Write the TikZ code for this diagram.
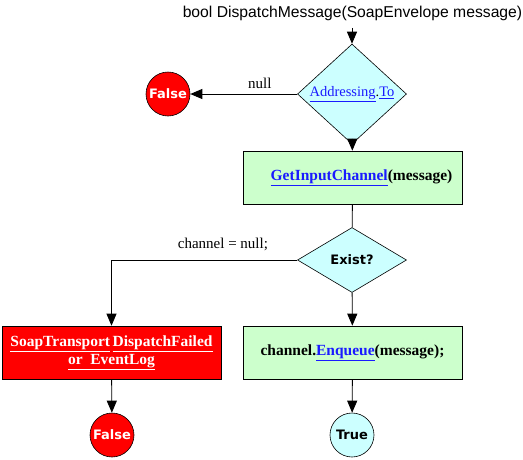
\documentclass[tikz,border=0pt]{standalone}
\usepackage{fontspec}
\setmainfont{Liberation Serif}
\setsansfont{Liberation Sans}
\newfontfamily\roundfont{DejaVu Sans}
\usetikzlibrary{arrows.meta,positioning,shapes.geometric}
\definecolor{decisioncyan}{HTML}{CCFFFF}
\definecolor{processgreen}{HTML}{CCFFCC}
\definecolor{failred}{HTML}{FF0000}
\definecolor{linkblue}{HTML}{1A1AFF}

% underlined link text
\newcommand{\linktext}[1]{\textcolor{linkblue}{\underline{#1}}}

\begin{document}
\begin{tikzpicture}[
		x=1pt, y=-1pt,
		>={Triangle[length=12pt,width=10pt]},
		line width=0.9pt,
		decision/.style={diamond, draw, fill=decisioncyan, inner sep=0pt,
				minimum width=109pt, minimum height=65pt, line width=0.6pt},
		process/.style={draw, fill=#1, minimum width=219pt, minimum height=53pt,
				align=center, line width=0.6pt, font=\fontsize{15.5}{18}\selectfont\bfseries},
		terminal/.style={circle, draw, fill=#1, minimum size=44pt, inner sep=0pt,
				line width=0.6pt, font=\roundfont\fontsize{13}{15}\selectfont\bfseries},
		label/.style={font=\fontsize{15}{17}\selectfont},
	]
	\useasboundingbox (0,0) rectangle (523,459);

	\node[font=\sffamily\fontsize{15.7}{18}\selectfont, inner sep=0pt] (title) at (352.5,13)
	{bool DispatchMessage(SoapEnvelope message)};

	\node[decision] (addr) at (352,94)
	{\fontsize{14.5}{17}\selectfont\linktext{Addressing}.\linktext{To}};

	\node[terminal=failred, text=white] (false1) at (168,94) {False};

	\node[process=processgreen] (getch) at (352.5,177.5)
	{\hspace*{18pt}\linktext{GetInputChannel}(message)};

	\node[decision] (exist) at (352,260)
	{\roundfont\fontsize{13}{15}\selectfont\bfseries Exist?};

	\node[process=failred, text=white] (fail) at (111.5,352.5)
	{\underline{SoapTransport}\,\underline{DispatchFailed}\\\underline{or\ \ EventLog}};

	\node[process=processgreen] (enq) at (352.5,352.5)
	{channel.\linktext{Enqueue}(message);};

	\node[terminal=failred, text=white] (false2) at (112,435) {False};
	\node[terminal=decisioncyan] (true) at (352,435) {True};

	\draw[->] ([yshift=-7pt]title.south -| addr.north) -- (addr);
	\draw[->] (addr) -- (false1)
	node[label, pos=0.35, above=2pt] {null};
	\draw[->] (addr) -- (getch);
	\draw (getch) -- (exist);
	\draw[->] (exist.west) -| (fail)
	node[label, pos=0.2, above=5pt] {channel = null;};
	\draw[->] (fail) -- (false2);
	\draw[->] (exist) -- (enq);
	\draw[->] (enq) -- (true);

\end{tikzpicture}
\end{document}
